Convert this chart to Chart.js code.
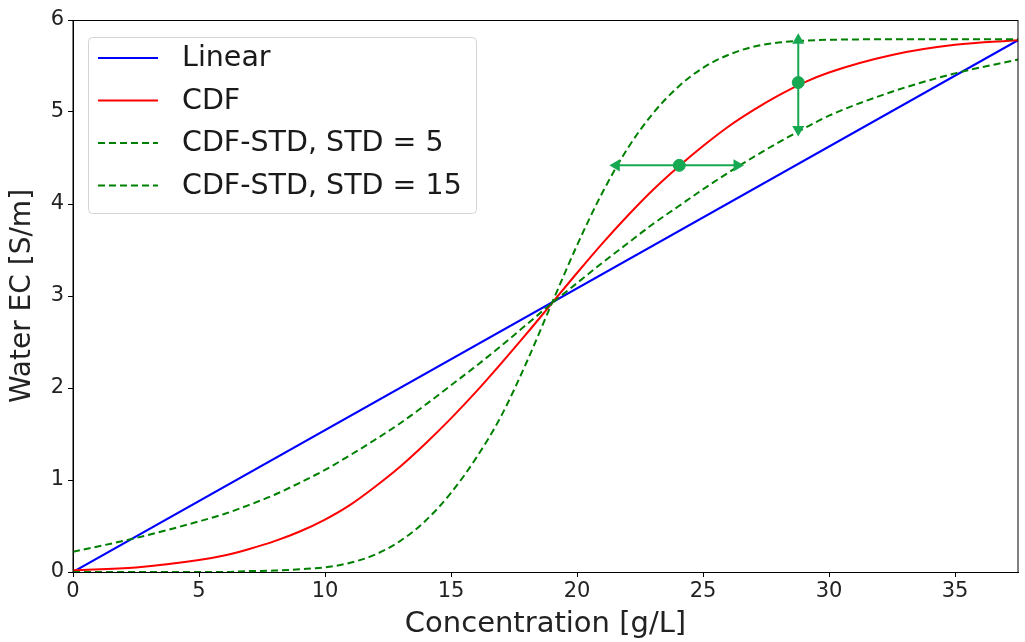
<!DOCTYPE html>
<html>
<head>
<meta charset="utf-8">
<script src="https://cdn.jsdelivr.net/npm/chart.js@4"></script>
<style>
  body { margin: 0; background: #fff; }
  #wrap { width: 1025px; height: 642px; }
</style>
</head>
<body>
<div id="wrap"><canvas id="myChart" width="1025" height="642"></canvas></div>
<script>
// concentration grid (g/L) used by the curves
const conc = [0, 2.5, 5, 6, 7, 8, 9, 10, 11, 12, 13, 14, 15, 16, 17, 18, 19, 20, 21, 22, 23, 24, 25, 26, 27, 28, 29, 30, 32.5, 35, 37.5];
const cdf = [0.02, 0.05, 0.13, 0.18, 0.25, 0.335, 0.44, 0.57, 0.73, 0.93, 1.15, 1.40, 1.67, 1.96, 2.27, 2.59, 2.92, 3.25, 3.57, 3.87, 4.15, 4.40, 4.63, 4.84, 5.02, 5.18, 5.32, 5.43, 5.62, 5.73, 5.78];
const std5 = [0, 0, 0, 0, 0.01, 0.015, 0.03, 0.05, 0.10, 0.19, 0.34, 0.56, 0.86, 1.24, 1.70, 2.28, 2.92, 3.55, 4.12, 4.60, 4.98, 5.27, 5.48, 5.62, 5.71, 5.755, 5.775, 5.785, 5.79, 5.79, 5.79];
const std15 = [0.22, 0.37, 0.55, 0.63, 0.73, 0.84, 0.97, 1.11, 1.27, 1.44, 1.62, 1.82, 2.03, 2.24, 2.46, 2.69, 2.92, 3.14, 3.36, 3.57, 3.78, 3.97, 4.16, 4.34, 4.51, 4.67, 4.82, 4.96, 5.22, 5.42, 5.57];

const linX = [0, 37.5];
const linY = [0, 5.78];

// annotation arrows + dots
const hArrowX = [21.56, 26.35];
const hArrowY = [4.42, 4.42];
const vArrowX = [28.78, 28.78];
const vArrowY = [5.78, 4.81];
const dotX = [24.06, 28.78];
const dotY = [4.42, 5.32];

const labels = ["Linear", "CDF", "CDF-STD, STD = 5", "CDF-STD, STD = 15"];
const xTicks = [0, 5, 10, 15, 20, 25, 30, 35];
const yTicks = [0, 1, 2, 3, 4, 5, 6];

const pts = (xs, ys) => xs.map((x, i) => ({ x: x, y: ys[i] }));
const arrowGreen = "#17a852";

const curve = (label, data, color, dash, order) => ({
  label: label,
  data: data,
  showLine: true,
  borderColor: color,
  backgroundColor: color,
  borderWidth: 2,
  borderDash: dash,
  pointRadius: 0,
  cubicInterpolationMode: "monotone",
  order: order,
});

// matplotlib-ish legend box + frame, drawn inside the plot area
const legendBox = {
  id: "legendBox",
  afterDatasetsDraw(chart) {
    const c = chart.ctx;
    const a = chart.chartArea;
    const ds = chart.data.datasets.slice(0, 4);
    const bx = a.left + 15, by = a.top + 17, bw = 388, bh = 176;
    c.save();
    c.fillStyle = "rgba(255,255,255,0.85)";
    c.strokeStyle = "#d4d4d4";
    c.lineWidth = 1;
    c.beginPath();
    c.roundRect(bx + 0.5, by + 0.5, bw, bh, 4);
    c.fill();
    c.stroke();
    c.font = "28.5px 'DejaVu Sans'";
    c.textBaseline = "middle";
    ds.forEach((d, i) => {
      const y = by + 21 + i * 42.5;
      c.strokeStyle = d.borderColor;
      c.lineWidth = 2;
      c.setLineDash(d.borderDash || []);
      c.beginPath();
      c.moveTo(bx + 10, y);
      c.lineTo(bx + 70, y);
      c.stroke();
      c.setLineDash([]);
      c.fillStyle = "#1a1a1a";
      c.fillText(d.label, bx + 94, y + 1);
    });
    c.strokeStyle = "#000";
    c.lineWidth = 1;
    c.strokeRect(a.left, a.top + 0.5, a.right - a.left, a.bottom - a.top);
    c.restore();
  },
};

const ctx = document.getElementById("myChart").getContext("2d");
new Chart(ctx, {
  type: "scatter",
  data: {
    datasets: [
      curve(labels[0], pts(linX, linY), "#0000ff", [], 6),
      curve(labels[1], pts(conc, cdf), "#ff0000", [], 5),
      curve(labels[2], pts(conc, std5), "#008000", [7, 4], 4),
      curve(labels[3], pts(conc, std15), "#008000", [7, 4], 3),
      {
        label: "h-arrow",
        data: pts(hArrowX, hArrowY),
        showLine: true,
        borderColor: arrowGreen,
        backgroundColor: arrowGreen,
        borderWidth: 2,
        pointStyle: "triangle",
        pointRadius: 5,
        pointRotation: [270, 90],
        order: 2,
      },
      {
        label: "v-arrow",
        data: pts(vArrowX, vArrowY),
        showLine: true,
        borderColor: arrowGreen,
        backgroundColor: arrowGreen,
        borderWidth: 2,
        pointStyle: "triangle",
        pointRadius: 5,
        pointRotation: [0, 180],
        order: 1,
      },
      {
        label: "dots",
        data: pts(dotX, dotY),
        showLine: false,
        borderColor: arrowGreen,
        backgroundColor: arrowGreen,
        pointRadius: 6,
        order: 0,
      },
    ],
  },
  options: {
    responsive: false,
    animation: false,
    layout: { padding: { top: 20, right: 0, left: 0, bottom: 0 } },
    plugins: { legend: { display: false }, tooltip: { enabled: false } },
    scales: {
      x: {
        type: "linear",
        min: 0,
        max: 37.5,
        afterBuildTicks: (s) => { s.ticks = xTicks.map((v) => ({ value: v })); },
        afterFit: (s) => { s.height = 70; },
        grid: { drawOnChartArea: false, tickLength: 5, color: "#000" },
        border: { display: true, color: "#000", width: 1 },
        ticks: { font: { family: "DejaVu Sans", size: 21 }, color: "#222", padding: 2 },
        title: { display: true, text: "Concentration [g/L]", font: { family: "DejaVu Sans", size: 29 }, color: "#222", padding: { top: 0, bottom: 0 } },
      },
      y: {
        type: "linear",
        min: 0,
        max: 6,
        afterBuildTicks: (s) => { s.ticks = yTicks.map((v) => ({ value: v })); },
        afterFit: (s) => { s.width = 73; },
        grid: { drawOnChartArea: false, tickLength: 5, color: "#000" },
        border: { display: true, color: "#000", width: 1 },
        ticks: { font: { family: "DejaVu Sans", size: 21 }, color: "#222", padding: 4 },
        title: { display: true, text: "Water EC [S/m]", font: { family: "DejaVu Sans", size: 28 }, color: "#222", padding: { top: 6, bottom: 0 } },
      },
    },
  },
  plugins: [legendBox],
});
</script>
</body>
</html>
